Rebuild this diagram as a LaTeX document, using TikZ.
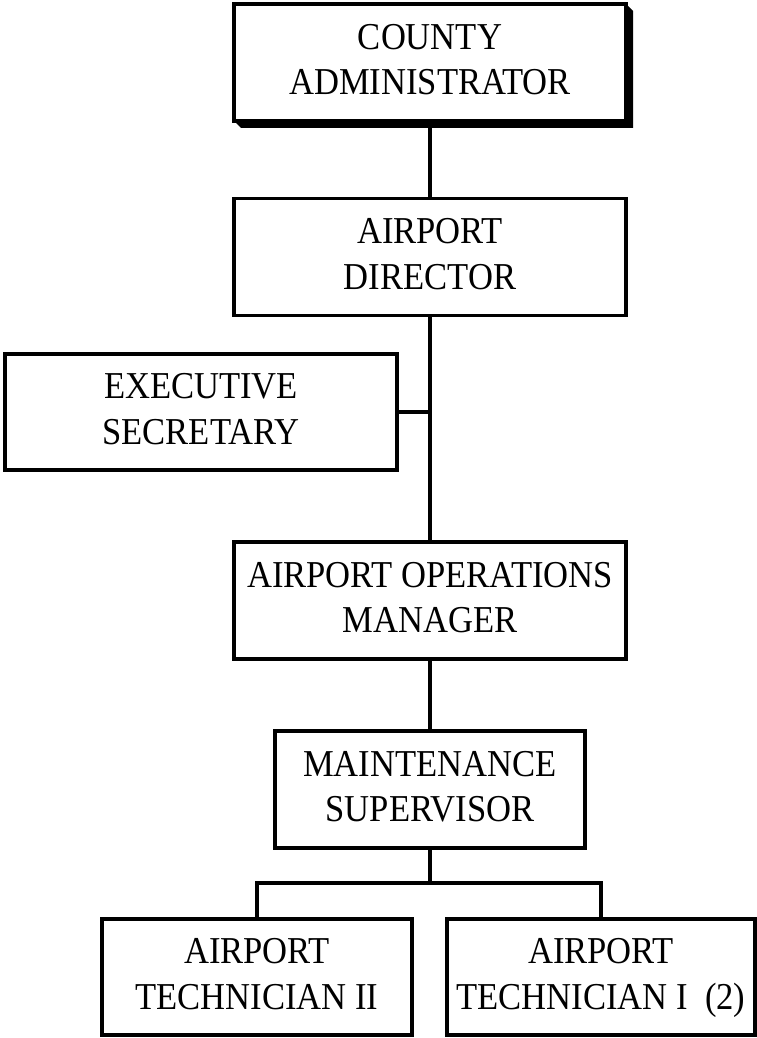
\documentclass[tikz,border=0pt]{standalone}
\usepackage{fontspec}
\setmainfont{Liberation Serif}[FakeStretch=0.91]
\usetikzlibrary{calc}
\begin{document}
\begin{tikzpicture}[x=1pt,y=1pt,
  box/.style={draw, line width=3.2pt, fill=white, inner sep=0pt, outer sep=0pt,
    align=center, text depth=6pt, font=\fontsize{38}{45.5}\selectfont},
  link/.style={line width=3.2pt}]
  \useasboundingbox (0,0) rectangle (757,-1038);

  % boxes, placed by their centres (y measured downward)
  \node[box, minimum width=392, minimum height=117] (ad) at (430,-257) {AIRPORT\\DIRECTOR};
  \node[box, minimum width=392, minimum height=116] (es) at (201,-412) {EXECUTIVE\\SECRETARY};
  \node[box, minimum width=392, minimum height=117] (aom) at (430,-600.5) {AIRPORT OPERATIONS\\MANAGER};
  \node[box, minimum width=310, minimum height=117] (ms) at (430,-789.5) {MAINTENANCE\\SUPERVISOR};
  \node[box, minimum width=310, minimum height=116] (t2) at (257,-977) {AIRPORT\\TECHNICIAN II};
  \node[box, minimum width=308, minimum height=116] (t1) at (601,-977) {AIRPORT\\TECHNICIAN I\ \ (2)};

  % top box with its raised shadow
  \path (430,-62.5) coordinate (cac);
  \fill ($(cac)+(196,58.5)$) -- ++(7,-7) -- ($(cac)+(203,-65.5)$)
        -- ($(cac)+(-189,-65.5)$) -- ($(cac)+(-196,-58.5)$) -- cycle;
  \node[box, minimum width=392, minimum height=117] (ca) at (cac) {COUNTY\\ADMINISTRATOR};

  % reporting lines
  \draw[link] (ca.south) -- (ad.north);
  \draw[link] (ad.south) -- (aom.north);
  \draw[link] (es.east) -- (es.east -| ad.south);
  \draw[link] (aom.south) -- (ms.north);
  \draw[link] (ms.south) -- ++(0,-35) coordinate (j);
  \draw[link] (t2.north) |- (j) -| (t1.north);
\end{tikzpicture}
\end{document}
